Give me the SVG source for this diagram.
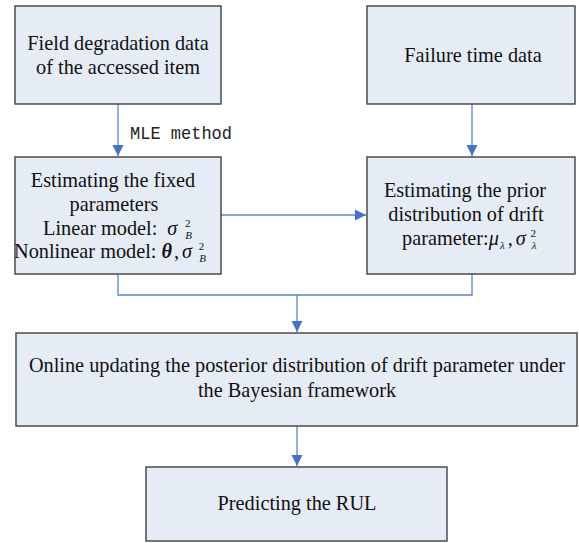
<svg xmlns="http://www.w3.org/2000/svg" width="579" height="543" viewBox="0 0 579 543">
  <style>
    .box { fill: #e6ecf6; stroke: #404040; stroke-width: 1.4; }
    .lbl { font-family: "Liberation Serif", "Times New Roman", serif; font-size: 20.3px; fill: #111; }
    .mid { text-anchor: middle; }
    .it { font-style: italic; }
    .sm { font-size: 11px; }
    .conn { fill: none; stroke: #5a86c6; stroke-width: 1.3; }
    .mono { font-family: "Liberation Mono", "Courier New", monospace; font-size: 18px; fill: #222; }
  </style>
  <defs>
    <marker id="arrow" markerUnits="userSpaceOnUse" markerWidth="12" markerHeight="12" viewBox="0 0 12 12" refX="11" refY="6" orient="auto">
      <path d="M0,0.5 L11,6 L0,11.5 Z" fill="#4472c4"/>
    </marker>
  </defs>

  <g id="connectors">
    <path class="conn" d="M118,104 V156" marker-end="url(#arrow)"/>
    <path class="conn" d="M472,104 V156" marker-end="url(#arrow)"/>
    <path class="conn" d="M221,215 H366" marker-end="url(#arrow)"/>
    <path class="conn" d="M118,274 V295 H472 V274"/>
    <path class="conn" d="M297,295 V332" marker-end="url(#arrow)"/>
    <path class="conn" d="M297,426 V466" marker-end="url(#arrow)"/>
    <text class="mono" x="130" y="139" textLength="102" lengthAdjust="spacingAndGlyphs">MLE method</text>
  </g>

  <g id="field-data">
    <rect class="box" x="15" y="6" width="206" height="98"/>
    <text class="lbl mid" x="118" y="50">Field degradation data</text>
    <text class="lbl mid" x="118" y="74">of the accessed item</text>
  </g>

  <g id="failure-data">
    <rect class="box" x="367" y="6" width="208" height="98"/>
    <text class="lbl mid" x="473" y="62">Failure time data</text>
  </g>

  <g id="fixed-params">
    <rect class="box" x="15" y="157" width="206" height="117"/>
    <text class="lbl mid" x="113" y="187">Estimating the fixed</text>
    <text class="lbl mid" x="114" y="211">parameters</text>
    <text class="lbl" x="43" y="235">Linear model:<tspan class="it" dx="10">σ</tspan><tspan class="it sm" dx="8" dy="4">B</tspan><tspan class="sm" dx="-7" dy="-12">2</tspan></text>
    <text class="lbl" x="14" y="258">Nonlinear model:<tspan class="it" font-weight="bold" dx="5">θ</tspan><tspan dx="2">,</tspan><tspan class="it" dx="3">σ</tspan><tspan class="it sm" dx="7" dy="4">B</tspan><tspan class="sm" dx="-7" dy="-12">2</tspan></text>
  </g>

  <g id="prior-dist">
    <rect class="box" x="367" y="157" width="208" height="117"/>
    <text class="lbl mid" x="465" y="197">Estimating the prior</text>
    <text class="lbl mid" x="466" y="221">distribution of drift</text>
    <text class="lbl" x="402" y="245">parameter:<tspan class="it">μ</tspan><tspan class="it sm" dx="1" dy="4">λ</tspan><tspan dx="3" dy="-4">,</tspan><tspan class="it" dx="3">σ</tspan><tspan class="it sm" dx="6" dy="4">λ</tspan><tspan class="sm" dx="-6" dy="-12">2</tspan></text>
  </g>

  <g id="posterior-update">
    <rect class="box" x="16" y="333" width="561" height="93"/>
    <text class="lbl mid" x="297" y="372">Online updating the posterior distribution of drift parameter under</text>
    <text class="lbl mid" x="297" y="397">the Bayesian framework</text>
  </g>

  <g id="rul">
    <rect class="box" x="146" y="467" width="301" height="74"/>
    <text class="lbl mid" x="297" y="510">Predicting the RUL</text>
  </g>
</svg>
